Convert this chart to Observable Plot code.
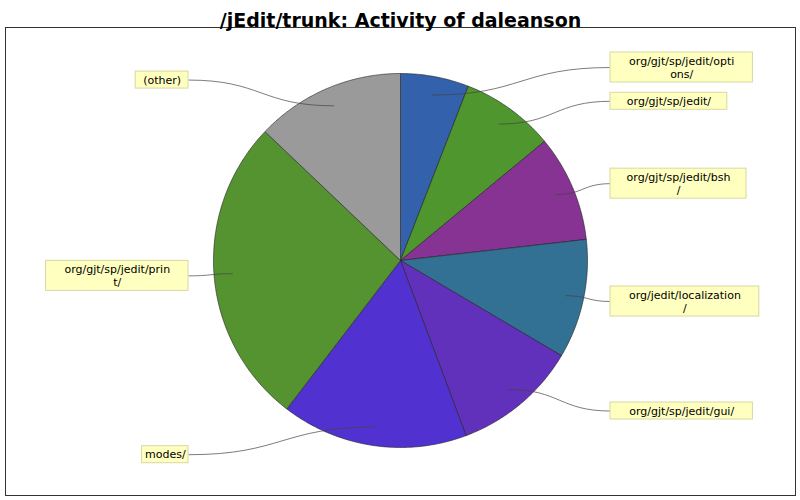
<!DOCTYPE html>
<html><head><meta charset="utf-8">
<script src="https://cdn.jsdelivr.net/npm/d3@7"></script>
<script src="https://cdn.jsdelivr.net/npm/@observablehq/plot@0.6"></script>
<style>body{margin:0;background:#fff}</style>
</head><body><div id="chart"></div>
<script>
var modules = ["org/gjt/sp/jedit/options/", "org/gjt/sp/jedit/", "org/gjt/sp/jedit/bsh/",
  "org/jedit/localization/", "org/gjt/sp/jedit/gui/", "modes/", "org/gjt/sp/jedit/print/", "(other)"];
var labelLines = [["org/gjt/sp/jedit/opti", "ons/"], ["org/gjt/sp/jedit/"], ["org/gjt/sp/jedit/bsh", "/"],
  ["org/jedit/localization", "/"], ["org/gjt/sp/jedit/gui/"], ["modes/"], ["org/gjt/sp/jedit/prin", "t/"], ["(other)"]];
var shares = [5.9, 8.1, 9.2, 10.3, 10.8, 16.1, 26.7, 12.9];
var colors = ["#3461ab", "#50962f", "#863393", "#327193", "#6231bb", "#5132d1", "#559330", "#9a9a9a"];

var cx = 400, cy = 260, R = 187;
var pie = d3.pie().sort(null).value(d => d)(shares);
var pt = (a, r) => [cx + r * Math.sin(a), cy - r * Math.cos(a)];

var poly = [], rects = [], texts = [], links = [];
pie.forEach((p, i) => {
  poly.push({k: i, x: cx, y: cy});
  var n = Math.max(2, Math.ceil((p.endAngle - p.startAngle) * 90));
  for (var j = 0; j <= n; j++) {
    var [x, y] = pt(p.startAngle + (p.endAngle - p.startAngle) * j / n, R);
    poly.push({k: i, x, y});
  }
  poly.push({k: i, x: cx, y: cy});
  var mid = (p.startAngle + p.endAngle) / 2;
  var right = mid < Math.PI;
  var [lx0, ly0] = pt(mid, 0.9 * R);
  var ly = cy - 1.05 * R * Math.cos(mid);
  var lines = labelLines[i];
  var w = d3.max(lines, s => s.length) * 6.4 + 8;
  var h = lines.length * 13 + 4;
  var x1 = right ? cx + R + 23 : cx - R - 25 - w, x2 = x1 + w;
  rects.push({x1, x2, y1: ly - h / 2, y2: ly + h / 2});
  lines.forEach((s, k) => texts.push({x: (x1 + x2) / 2, y: ly - (lines.length - 1) * 6.5 + k * 13, s}));
  links.push({x1: lx0, y1: ly0, x2: right ? x1 : x2, y2: ly});
});

var chart = Plot.plot({
  width: 800, height: 500, margin: 0,
  x: {domain: [0, 800], range: [0, 800], axis: null},
  y: {domain: [0, 500], range: [0, 500], axis: null},
  style: {fontFamily: "DejaVu Sans", fontSize: "11px", background: "#fff"},
  marks: [
    Plot.frame({insetTop: 27, insetLeft: 5, insetRight: 5, insetBottom: 5, stroke: "#333"}),
    Plot.line(poly, {x: "x", y: "y", z: "k", fill: d => colors[d.k], stroke: "#222", strokeWidth: 0.6, curve: "linear"}),
    Plot.link(links, {x1: "x1", y1: "y1", x2: "x2", y2: "y2", curve: "bump-x", stroke: "#444", strokeWidth: 0.7}),
    Plot.rect(rects, {x1: "x1", x2: "x2", y1: "y1", y2: "y2", fill: "#ffffc0", stroke: "#d8d8a0"}),
    Plot.text(texts, {x: "x", y: "y", text: "s", fill: "#000"}),
    Plot.text(["/jEdit/trunk: Activity of daleanson"], {frameAnchor: "top", dy: 13, fontSize: 19, fontWeight: "bold", fill: "#000"})
  ]
});
document.getElementById("chart").append(chart);
</script>
</body></html>
